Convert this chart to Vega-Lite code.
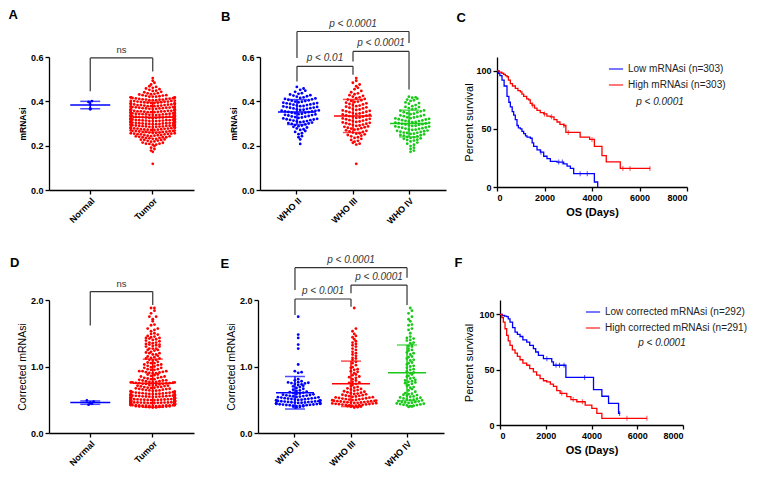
{
"$schema":"https://vega.github.io/schema/vega-lite/v6.json",
"padding":{"left":8,"top":9,"right":0,"bottom":0},
"config":{"font":"Liberation Sans","view":{"stroke":null},
"axis":{"grid":false,"domainColor":"#000","tickColor":"#000","domainWidth":1.3,"tickWidth":1.3,"tickSize":4,"labelFontWeight":"bold","labelFontSize":9,"labelColor":"#000","labelPadding":2,"titleFontWeight":"normal","titleFontSize":10.5,"titleColor":"#000"},
"title":{"anchor":"start","frame":"bounds","fontSize":13,"fontWeight":"bold","color":"#000"}},
"datasets":{
"m":[
{"g":"Normal","v":0.401},{"g":"Normal","v":0.397},{"g":"Normal","v":0.386},{"g":"Normal","v":0.368},{"g":"Normal","v":0.364},
{"g":"WHO II","v":0.208},{"g":"WHO II","v":0.228},{"g":"WHO II","v":0.238},{"g":"WHO II","v":0.243},{"g":"WHO II","v":0.252},{"g":"WHO II","v":0.256},{"g":"WHO II","v":0.262},{"g":"WHO II","v":0.266},{"g":"WHO II","v":0.271},{"g":"WHO II","v":0.274},{"g":"WHO II","v":0.278},{"g":"WHO II","v":0.282},{"g":"WHO II","v":0.285},{"g":"WHO II","v":0.288},{"g":"WHO II","v":0.291},{"g":"WHO II","v":0.293},{"g":"WHO II","v":0.296},{"g":"WHO II","v":0.298},
{"g":"WHO II","v":0.300},{"g":"WHO II","v":0.302},{"g":"WHO II","v":0.304},{"g":"WHO II","v":0.306},{"g":"WHO II","v":0.308},{"g":"WHO II","v":0.309},
{"g":"WHO II","v":0.311},{"g":"WHO II","v":0.313},{"g":"WHO II","v":0.315},{"g":"WHO II","v":0.316},{"g":"WHO II","v":0.318},{"g":"WHO II","v":0.319},
{"g":"WHO II","v":0.321},{"g":"WHO II","v":0.323},{"g":"WHO II","v":0.325},{"g":"WHO II","v":0.327},{"g":"WHO II","v":0.329},
{"g":"WHO II","v":0.331},{"g":"WHO II","v":0.332},{"g":"WHO II","v":0.334},{"g":"WHO II","v":0.336},{"g":"WHO II","v":0.338},{"g":"WHO II","v":0.339},
{"g":"WHO II","v":0.341},{"g":"WHO II","v":0.342},{"g":"WHO II","v":0.344},{"g":"WHO II","v":0.346},{"g":"WHO II","v":0.348},{"g":"WHO II","v":0.349},
{"g":"WHO II","v":0.351},{"g":"WHO II","v":0.352},{"g":"WHO II","v":0.354},{"g":"WHO II","v":0.355},{"g":"WHO II","v":0.357},{"g":"WHO II","v":0.358},{"g":"WHO II","v":0.359},
{"g":"WHO II","v":0.361},{"g":"WHO II","v":0.362},{"g":"WHO II","v":0.364},{"g":"WHO II","v":0.366},{"g":"WHO II","v":0.368},{"g":"WHO II","v":0.369},
{"g":"WHO II","v":0.371},{"g":"WHO II","v":0.372},{"g":"WHO II","v":0.374},{"g":"WHO II","v":0.375},{"g":"WHO II","v":0.377},{"g":"WHO II","v":0.378},{"g":"WHO II","v":0.379},
{"g":"WHO II","v":0.381},{"g":"WHO II","v":0.383},{"g":"WHO II","v":0.385},{"g":"WHO II","v":0.386},{"g":"WHO II","v":0.388},{"g":"WHO II","v":0.389},
{"g":"WHO II","v":0.391},{"g":"WHO II","v":0.392},{"g":"WHO II","v":0.394},{"g":"WHO II","v":0.396},{"g":"WHO II","v":0.398},{"g":"WHO II","v":0.399},
{"g":"WHO II","v":0.401},{"g":"WHO II","v":0.403},{"g":"WHO II","v":0.405},{"g":"WHO II","v":0.407},{"g":"WHO II","v":0.409},
{"g":"WHO II","v":0.411},{"g":"WHO II","v":0.413},{"g":"WHO II","v":0.415},{"g":"WHO II","v":0.418},
{"g":"WHO II","v":0.421},{"g":"WHO II","v":0.423},{"g":"WHO II","v":0.426},{"g":"WHO II","v":0.428},
{"g":"WHO II","v":0.431},{"g":"WHO II","v":0.434},{"g":"WHO II","v":0.437},
{"g":"WHO II","v":0.443},{"g":"WHO II","v":0.448},{"g":"WHO II","v":0.452},{"g":"WHO II","v":0.458},{"g":"WHO II","v":0.465},
{"g":"WHO III","v":0.118},
{"g":"WHO III","v":0.205},{"g":"WHO III","v":0.209},{"g":"WHO III","v":0.213},{"g":"WHO III","v":0.218},{"g":"WHO III","v":0.222},{"g":"WHO III","v":0.226},{"g":"WHO III","v":0.231},{"g":"WHO III","v":0.235},{"g":"WHO III","v":0.238},{"g":"WHO III","v":0.242},{"g":"WHO III","v":0.245},{"g":"WHO III","v":0.248},
{"g":"WHO III","v":0.251},{"g":"WHO III","v":0.254},{"g":"WHO III","v":0.256},{"g":"WHO III","v":0.259},{"g":"WHO III","v":0.262},{"g":"WHO III","v":0.264},{"g":"WHO III","v":0.267},{"g":"WHO III","v":0.269},{"g":"WHO III","v":0.272},{"g":"WHO III","v":0.274},{"g":"WHO III","v":0.277},{"g":"WHO III","v":0.279},
{"g":"WHO III","v":0.281},{"g":"WHO III","v":0.283},{"g":"WHO III","v":0.285},{"g":"WHO III","v":0.287},{"g":"WHO III","v":0.289},{"g":"WHO III","v":0.291},{"g":"WHO III","v":0.293},{"g":"WHO III","v":0.295},{"g":"WHO III","v":0.297},{"g":"WHO III","v":0.299},
{"g":"WHO III","v":0.301},{"g":"WHO III","v":0.303},{"g":"WHO III","v":0.305},{"g":"WHO III","v":0.307},{"g":"WHO III","v":0.309},{"g":"WHO III","v":0.311},{"g":"WHO III","v":0.313},{"g":"WHO III","v":0.315},{"g":"WHO III","v":0.317},{"g":"WHO III","v":0.319},
{"g":"WHO III","v":0.321},{"g":"WHO III","v":0.323},{"g":"WHO III","v":0.325},{"g":"WHO III","v":0.327},{"g":"WHO III","v":0.329},{"g":"WHO III","v":0.331},{"g":"WHO III","v":0.333},{"g":"WHO III","v":0.335},{"g":"WHO III","v":0.337},{"g":"WHO III","v":0.339},
{"g":"WHO III","v":0.341},{"g":"WHO III","v":0.343},{"g":"WHO III","v":0.345},{"g":"WHO III","v":0.347},{"g":"WHO III","v":0.349},{"g":"WHO III","v":0.351},{"g":"WHO III","v":0.353},{"g":"WHO III","v":0.355},{"g":"WHO III","v":0.357},{"g":"WHO III","v":0.359},
{"g":"WHO III","v":0.361},{"g":"WHO III","v":0.363},{"g":"WHO III","v":0.365},{"g":"WHO III","v":0.368},{"g":"WHO III","v":0.371},{"g":"WHO III","v":0.373},{"g":"WHO III","v":0.376},{"g":"WHO III","v":0.378},
{"g":"WHO III","v":0.381},{"g":"WHO III","v":0.383},{"g":"WHO III","v":0.386},{"g":"WHO III","v":0.388},{"g":"WHO III","v":0.391},{"g":"WHO III","v":0.394},{"g":"WHO III","v":0.397},{"g":"WHO III","v":0.399},
{"g":"WHO III","v":0.402},{"g":"WHO III","v":0.405},{"g":"WHO III","v":0.408},{"g":"WHO III","v":0.411},{"g":"WHO III","v":0.414},{"g":"WHO III","v":0.418},{"g":"WHO III","v":0.421},{"g":"WHO III","v":0.425},{"g":"WHO III","v":0.428},{"g":"WHO III","v":0.432},{"g":"WHO III","v":0.436},{"g":"WHO III","v":0.441},
{"g":"WHO III","v":0.447},{"g":"WHO III","v":0.455},{"g":"WHO III","v":0.461},{"g":"WHO III","v":0.468},{"g":"WHO III","v":0.476},{"g":"WHO III","v":0.484},{"g":"WHO III","v":0.493},{"g":"WHO III","v":0.505},
{"g":"WHO IV","v":0.172},{"g":"WHO IV","v":0.178},{"g":"WHO IV","v":0.185},{"g":"WHO IV","v":0.191},{"g":"WHO IV","v":0.198},{"g":"WHO IV","v":0.204},{"g":"WHO IV","v":0.209},{"g":"WHO IV","v":0.214},{"g":"WHO IV","v":0.219},
{"g":"WHO IV","v":0.223},{"g":"WHO IV","v":0.227},{"g":"WHO IV","v":0.231},{"g":"WHO IV","v":0.235},{"g":"WHO IV","v":0.238},{"g":"WHO IV","v":0.242},{"g":"WHO IV","v":0.245},{"g":"WHO IV","v":0.248},
{"g":"WHO IV","v":0.251},{"g":"WHO IV","v":0.254},{"g":"WHO IV","v":0.257},{"g":"WHO IV","v":0.259},{"g":"WHO IV","v":0.262},{"g":"WHO IV","v":0.265},{"g":"WHO IV","v":0.268},
{"g":"WHO IV","v":0.271},{"g":"WHO IV","v":0.273},{"g":"WHO IV","v":0.276},{"g":"WHO IV","v":0.279},{"g":"WHO IV","v":0.281},{"g":"WHO IV","v":0.284},{"g":"WHO IV","v":0.287},{"g":"WHO IV","v":0.289},
{"g":"WHO IV","v":0.292},{"g":"WHO IV","v":0.295},{"g":"WHO IV","v":0.298},{"g":"WHO IV","v":0.301},{"g":"WHO IV","v":0.303},{"g":"WHO IV","v":0.306},{"g":"WHO IV","v":0.309},
{"g":"WHO IV","v":0.312},{"g":"WHO IV","v":0.315},{"g":"WHO IV","v":0.318},{"g":"WHO IV","v":0.321},{"g":"WHO IV","v":0.324},{"g":"WHO IV","v":0.327},
{"g":"WHO IV","v":0.331},{"g":"WHO IV","v":0.334},{"g":"WHO IV","v":0.338},{"g":"WHO IV","v":0.342},{"g":"WHO IV","v":0.346},{"g":"WHO IV","v":0.351},
{"g":"WHO IV","v":0.355},{"g":"WHO IV","v":0.359},{"g":"WHO IV","v":0.364},{"g":"WHO IV","v":0.369},{"g":"WHO IV","v":0.374},{"g":"WHO IV","v":0.378},
{"g":"WHO IV","v":0.383},{"g":"WHO IV","v":0.389},{"g":"WHO IV","v":0.395},{"g":"WHO IV","v":0.402},{"g":"WHO IV","v":0.408},{"g":"WHO IV","v":0.412},{"g":"WHO IV","v":0.416},{"g":"WHO IV","v":0.418},{"g":"WHO IV","v":0.421},
{"g":"WHO IV","v":0.226},{"g":"WHO IV","v":0.233},{"g":"WHO IV","v":0.24},{"g":"WHO IV","v":0.247},{"g":"WHO IV","v":0.253},{"g":"WHO IV","v":0.258},{"g":"WHO IV","v":0.263},{"g":"WHO IV","v":0.267},{"g":"WHO IV","v":0.272},{"g":"WHO IV","v":0.277},{"g":"WHO IV","v":0.282},{"g":"WHO IV","v":0.286},{"g":"WHO IV","v":0.29},{"g":"WHO IV","v":0.294},{"g":"WHO IV","v":0.297},{"g":"WHO IV","v":0.3},
{"g":"WHO IV","v":0.304},{"g":"WHO IV","v":0.307},{"g":"WHO IV","v":0.311},{"g":"WHO IV","v":0.314},{"g":"WHO IV","v":0.319},{"g":"WHO IV","v":0.323},{"g":"WHO IV","v":0.328},{"g":"WHO IV","v":0.333},{"g":"WHO IV","v":0.337},{"g":"WHO IV","v":0.344},{"g":"WHO IV","v":0.35},{"g":"WHO IV","v":0.357},{"g":"WHO IV","v":0.366},{"g":"WHO IV","v":0.375},{"g":"WHO IV","v":0.392},{"g":"WHO IV","v":0.405}
],
"c":[
{"g":"Normal","v":0.49},{"g":"Normal","v":0.473},{"g":"Normal","v":0.455},{"g":"Normal","v":0.44},{"g":"Normal","v":0.426},
{"g":"WHO II","v":0.385},{"g":"WHO II","v":0.392},{"g":"WHO II","v":0.398},{"g":"WHO II","v":0.402},{"g":"WHO II","v":0.405},{"g":"WHO II","v":0.408},{"g":"WHO II","v":0.411},{"g":"WHO II","v":0.414},{"g":"WHO II","v":0.417},{"g":"WHO II","v":0.419},
{"g":"WHO II","v":0.421},{"g":"WHO II","v":0.424},{"g":"WHO II","v":0.427},{"g":"WHO II","v":0.429},{"g":"WHO II","v":0.432},{"g":"WHO II","v":0.435},{"g":"WHO II","v":0.437},{"g":"WHO II","v":0.439},
{"g":"WHO II","v":0.442},{"g":"WHO II","v":0.445},{"g":"WHO II","v":0.447},{"g":"WHO II","v":0.449},{"g":"WHO II","v":0.452},{"g":"WHO II","v":0.455},{"g":"WHO II","v":0.457},{"g":"WHO II","v":0.459},
{"g":"WHO II","v":0.462},{"g":"WHO II","v":0.465},{"g":"WHO II","v":0.467},{"g":"WHO II","v":0.469},{"g":"WHO II","v":0.472},{"g":"WHO II","v":0.475},{"g":"WHO II","v":0.477},{"g":"WHO II","v":0.479},
{"g":"WHO II","v":0.482},{"g":"WHO II","v":0.485},{"g":"WHO II","v":0.488},{"g":"WHO II","v":0.491},{"g":"WHO II","v":0.494},{"g":"WHO II","v":0.497},
{"g":"WHO II","v":0.501},{"g":"WHO II","v":0.504},{"g":"WHO II","v":0.507},{"g":"WHO II","v":0.511},{"g":"WHO II","v":0.514},{"g":"WHO II","v":0.517},
{"g":"WHO II","v":0.521},{"g":"WHO II","v":0.524},{"g":"WHO II","v":0.528},{"g":"WHO II","v":0.532},{"g":"WHO II","v":0.536},{"g":"WHO II","v":0.539},
{"g":"WHO II","v":0.543},{"g":"WHO II","v":0.547},{"g":"WHO II","v":0.551},{"g":"WHO II","v":0.555},{"g":"WHO II","v":0.559},
{"g":"WHO II","v":0.563},{"g":"WHO II","v":0.567},{"g":"WHO II","v":0.572},{"g":"WHO II","v":0.577},{"g":"WHO II","v":0.582},{"g":"WHO II","v":0.588},
{"g":"WHO II","v":0.594},{"g":"WHO II","v":0.601},{"g":"WHO II","v":0.608},{"g":"WHO II","v":0.615},{"g":"WHO II","v":0.622},{"g":"WHO II","v":0.631},
{"g":"WHO II","v":0.64},{"g":"WHO II","v":0.652},{"g":"WHO II","v":0.665},{"g":"WHO II","v":0.678},{"g":"WHO II","v":0.69},{"g":"WHO II","v":0.702},
{"g":"WHO II","v":0.712},{"g":"WHO II","v":0.722},{"g":"WHO II","v":0.731},{"g":"WHO II","v":0.738},{"g":"WHO II","v":0.745},{"g":"WHO II","v":0.751},{"g":"WHO II","v":0.756},{"g":"WHO II","v":0.761},{"g":"WHO II","v":0.765},
{"g":"WHO II","v":0.778},{"g":"WHO II","v":0.792},{"g":"WHO II","v":0.81},{"g":"WHO II","v":0.905},{"g":"WHO II","v":0.915},{"g":"WHO II","v":0.93},{"g":"WHO II","v":1.03},{"g":"WHO II","v":1.27},{"g":"WHO II","v":1.33},{"g":"WHO II","v":1.43},{"g":"WHO II","v":1.48},{"g":"WHO II","v":1.75},
{"g":"WHO III","v":0.382},{"g":"WHO III","v":0.389},{"g":"WHO III","v":0.395},{"g":"WHO III","v":0.399},{"g":"WHO III","v":0.403},{"g":"WHO III","v":0.407},{"g":"WHO III","v":0.411},{"g":"WHO III","v":0.414},{"g":"WHO III","v":0.417},
{"g":"WHO III","v":0.421},{"g":"WHO III","v":0.424},{"g":"WHO III","v":0.427},{"g":"WHO III","v":0.43},{"g":"WHO III","v":0.433},{"g":"WHO III","v":0.436},{"g":"WHO III","v":0.439},
{"g":"WHO III","v":0.442},{"g":"WHO III","v":0.445},{"g":"WHO III","v":0.448},{"g":"WHO III","v":0.451},{"g":"WHO III","v":0.454},{"g":"WHO III","v":0.457},{"g":"WHO III","v":0.459},
{"g":"WHO III","v":0.462},{"g":"WHO III","v":0.465},{"g":"WHO III","v":0.468},{"g":"WHO III","v":0.471},{"g":"WHO III","v":0.474},{"g":"WHO III","v":0.477},{"g":"WHO III","v":0.479},
{"g":"WHO III","v":0.482},{"g":"WHO III","v":0.485},{"g":"WHO III","v":0.488},{"g":"WHO III","v":0.492},{"g":"WHO III","v":0.495},{"g":"WHO III","v":0.498},
{"g":"WHO III","v":0.502},{"g":"WHO III","v":0.506},{"g":"WHO III","v":0.51},{"g":"WHO III","v":0.514},{"g":"WHO III","v":0.518},
{"g":"WHO III","v":0.522},{"g":"WHO III","v":0.526},{"g":"WHO III","v":0.531},{"g":"WHO III","v":0.535},{"g":"WHO III","v":0.539},
{"g":"WHO III","v":0.544},{"g":"WHO III","v":0.549},{"g":"WHO III","v":0.554},{"g":"WHO III","v":0.559},
{"g":"WHO III","v":0.564},{"g":"WHO III","v":0.569},{"g":"WHO III","v":0.575},{"g":"WHO III","v":0.581},{"g":"WHO III","v":0.587},
{"g":"WHO III","v":0.593},{"g":"WHO III","v":0.599},{"g":"WHO III","v":0.606},{"g":"WHO III","v":0.613},{"g":"WHO III","v":0.62},
{"g":"WHO III","v":0.628},{"g":"WHO III","v":0.636},{"g":"WHO III","v":0.645},{"g":"WHO III","v":0.654},{"g":"WHO III","v":0.663},{"g":"WHO III","v":0.672},{"g":"WHO III","v":0.682},{"g":"WHO III","v":0.693},{"g":"WHO III","v":0.705},
{"g":"WHO III","v":0.72},{"g":"WHO III","v":0.74},{"g":"WHO III","v":0.755},{"g":"WHO III","v":0.77},{"g":"WHO III","v":0.79},{"g":"WHO III","v":0.81},{"g":"WHO III","v":0.83},{"g":"WHO III","v":0.85},{"g":"WHO III","v":0.87},{"g":"WHO III","v":0.9},{"g":"WHO III","v":0.93},{"g":"WHO III","v":0.96},{"g":"WHO III","v":0.98},{"g":"WHO III","v":0.99},
{"g":"WHO III","v":1.05},{"g":"WHO III","v":1.1},{"g":"WHO III","v":1.13},{"g":"WHO III","v":1.18},{"g":"WHO III","v":1.22},{"g":"WHO III","v":1.27},{"g":"WHO III","v":1.32},{"g":"WHO III","v":1.36},{"g":"WHO III","v":1.41},{"g":"WHO III","v":1.44},{"g":"WHO III","v":1.49},{"g":"WHO III","v":1.53},{"g":"WHO III","v":1.57},{"g":"WHO III","v":1.88},
{"g":"WHO III","v":1.02},{"g":"WHO III","v":1.07},{"g":"WHO III","v":1.12},{"g":"WHO III","v":1.16},{"g":"WHO III","v":1.2},{"g":"WHO III","v":1.25},{"g":"WHO III","v":1.3},{"g":"WHO III","v":1.34},{"g":"WHO III","v":1.38},{"g":"WHO III","v":1.46},{"g":"WHO III","v":0.92},{"g":"WHO III","v":0.95},{"g":"WHO III","v":0.88},{"g":"WHO III","v":0.84},{"g":"WHO III","v":0.76},
{"g":"WHO IV","v":0.392},{"g":"WHO IV","v":0.405},{"g":"WHO IV","v":0.415},{"g":"WHO IV","v":0.425},{"g":"WHO IV","v":0.435},{"g":"WHO IV","v":0.445},{"g":"WHO IV","v":0.455},{"g":"WHO IV","v":0.465},{"g":"WHO IV","v":0.475},{"g":"WHO IV","v":0.49},{"g":"WHO IV","v":0.5},{"g":"WHO IV","v":0.515},{"g":"WHO IV","v":0.53},{"g":"WHO IV","v":0.545},{"g":"WHO IV","v":0.56},{"g":"WHO IV","v":0.575},{"g":"WHO IV","v":0.59},
{"g":"WHO IV","v":0.62},{"g":"WHO IV","v":0.66},{"g":"WHO IV","v":0.69},{"g":"WHO IV","v":0.72},{"g":"WHO IV","v":0.74},{"g":"WHO IV","v":0.76},{"g":"WHO IV","v":0.78},{"g":"WHO IV","v":0.8},{"g":"WHO IV","v":0.83},{"g":"WHO IV","v":0.86},{"g":"WHO IV","v":0.88},
{"g":"WHO IV","v":0.91},{"g":"WHO IV","v":0.93},{"g":"WHO IV","v":0.95},{"g":"WHO IV","v":0.98},{"g":"WHO IV","v":1.0},{"g":"WHO IV","v":1.03},{"g":"WHO IV","v":1.06},{"g":"WHO IV","v":1.09},{"g":"WHO IV","v":1.12},
{"g":"WHO IV","v":1.15},{"g":"WHO IV","v":1.18},{"g":"WHO IV","v":1.21},{"g":"WHO IV","v":1.24},{"g":"WHO IV","v":1.27},{"g":"WHO IV","v":1.3},{"g":"WHO IV","v":1.33},{"g":"WHO IV","v":1.36},{"g":"WHO IV","v":1.39},{"g":"WHO IV","v":1.42},{"g":"WHO IV","v":1.45},
{"g":"WHO IV","v":1.5},{"g":"WHO IV","v":1.57},{"g":"WHO IV","v":1.63},{"g":"WHO IV","v":1.68},{"g":"WHO IV","v":1.75},{"g":"WHO IV","v":1.8},{"g":"WHO IV","v":1.84},{"g":"WHO IV","v":1.88},
{"g":"WHO IV","v":0.398},{"g":"WHO IV","v":0.41},{"g":"WHO IV","v":0.42},{"g":"WHO IV","v":0.43},{"g":"WHO IV","v":0.44},{"g":"WHO IV","v":0.45},{"g":"WHO IV","v":0.46},{"g":"WHO IV","v":0.47},{"g":"WHO IV","v":0.48},{"g":"WHO IV","v":0.495},{"g":"WHO IV","v":0.505},{"g":"WHO IV","v":0.52},{"g":"WHO IV","v":0.535},{"g":"WHO IV","v":0.55},{"g":"WHO IV","v":0.57},{"g":"WHO IV","v":0.585},{"g":"WHO IV","v":0.6},{"g":"WHO IV","v":0.64},{"g":"WHO IV","v":0.68},{"g":"WHO IV","v":0.71},
{"g":"WHO IV","v":0.75},{"g":"WHO IV","v":0.77},{"g":"WHO IV","v":0.79},{"g":"WHO IV","v":0.82},{"g":"WHO IV","v":0.85},{"g":"WHO IV","v":0.9},{"g":"WHO IV","v":0.96},{"g":"WHO IV","v":1.01},{"g":"WHO IV","v":1.05},{"g":"WHO IV","v":1.1},{"g":"WHO IV","v":1.14},{"g":"WHO IV","v":1.2},{"g":"WHO IV","v":1.25},{"g":"WHO IV","v":1.31},{"g":"WHO IV","v":1.35},{"g":"WHO IV","v":1.4},{"g":"WHO IV","v":1.43},{"g":"WHO IV","v":1.55},{"g":"WHO IV","v":1.62},{"g":"WHO IV","v":1.71}
],
"br":[
{"p":"A","a":"Normal","b":"Tumor","y":0.596,"ya":0.445,"yb":0.535,"t":"ns","m":"Normal","k":"edge"},
{"p":"B","a":"WHO II","b":"WHO III","y":0.558,"ya":0.49,"yb":0.52,"t":"p < 0.01","m":"WHO II","k":"edge"},
{"p":"B","a":"WHO III","b":"WHO IV","y":0.625,"ya":0.58,"yb":0.453,"t":"p < 0.0001","m":"WHO III","k":"edge"},
{"p":"B","a":"WHO II","b":"WHO IV","y":0.715,"ya":0.596,"yb":0.663,"t":"p < 0.0001","m":"WHO III","k":"mid"},
{"p":"D","a":"Normal","b":"Tumor","y":2.126,"ya":1.616,"yb":1.925,"t":"ns","m":"Normal","k":"edge"},
{"p":"E","a":"WHO II","b":"WHO III","y":2.015,"ya":1.775,"yb":1.9,"t":"p < 0.001","m":"WHO II","k":"edge"},
{"p":"E","a":"WHO III","b":"WHO IV","y":2.225,"ya":2.1,"yb":1.925,"t":"p < 0.0001","m":"WHO III","k":"edge"},
{"p":"E","a":"WHO II","b":"WHO IV","y":2.486,"ya":2.15,"yb":2.336,"t":"p < 0.0001","m":"WHO III","k":"mid"}
],
"km":[
{"p":"C","s":"Low","t":0,"v":100},{"p":"C","s":"Low","t":60,"v":98},{"p":"C","s":"Low","t":120,"v":96},{"p":"C","s":"Low","t":211,"v":92},{"p":"C","s":"Low","t":300,"v":87},{"p":"C","s":"Low","t":421,"v":78},{"p":"C","s":"Low","t":500,"v":73},{"p":"C","s":"Low","t":562,"v":69},{"p":"C","s":"Low","t":640,"v":65},{"p":"C","s":"Low","t":702,"v":62},{"p":"C","s":"Low","t":770,"v":58},{"p":"C","s":"Low","t":842,"v":53},{"p":"C","s":"Low","t":900,"v":51},{"p":"C","s":"Low","t":983,"v":50},{"p":"C","s":"Low","t":1050,"v":48},{"p":"C","s":"Low","t":1123,"v":46},{"p":"C","s":"Low","t":1200,"v":44},{"p":"C","s":"Low","t":1264,"v":43},{"p":"C","s":"Low","t":1404,"v":42},{"p":"C","s":"Low","t":1480,"v":38},{"p":"C","s":"Low","t":1544,"v":35},{"p":"C","s":"Low","t":1685,"v":32},{"p":"C","s":"Low","t":1825,"v":30},{"p":"C","s":"Low","t":1966,"v":26.5},{"p":"C","s":"Low","t":2106,"v":24.5},{"p":"C","s":"Low","t":2246,"v":22},{"p":"C","s":"Low","t":2527,"v":21.5},{"p":"C","s":"Low","t":2808,"v":20},{"p":"C","s":"Low","t":2950,"v":18},{"p":"C","s":"Low","t":3089,"v":16},{"p":"C","s":"Low","t":3229,"v":11.5},{"p":"C","s":"Low","t":4100,"v":4.3},{"p":"C","s":"Low","t":4240,"v":0},
{"p":"C","s":"High","t":0,"v":100},{"p":"C","s":"High","t":100,"v":99},{"p":"C","s":"High","t":200,"v":98},{"p":"C","s":"High","t":281,"v":97},{"p":"C","s":"High","t":350,"v":96},{"p":"C","s":"High","t":421,"v":95},{"p":"C","s":"High","t":480,"v":92},{"p":"C","s":"High","t":562,"v":89},{"p":"C","s":"High","t":650,"v":87},{"p":"C","s":"High","t":772,"v":85},{"p":"C","s":"High","t":880,"v":83},{"p":"C","s":"High","t":983,"v":82},{"p":"C","s":"High","t":1050,"v":80},{"p":"C","s":"High","t":1123,"v":78},{"p":"C","s":"High","t":1250,"v":76},{"p":"C","s":"High","t":1334,"v":75},{"p":"C","s":"High","t":1400,"v":72},{"p":"C","s":"High","t":1474,"v":70.6},{"p":"C","s":"High","t":1580,"v":68},{"p":"C","s":"High","t":1685,"v":66},{"p":"C","s":"High","t":1820,"v":64},{"p":"C","s":"High","t":1966,"v":63},{"p":"C","s":"High","t":2100,"v":61},{"p":"C","s":"High","t":2246,"v":60.5},{"p":"C","s":"High","t":2400,"v":58},{"p":"C","s":"High","t":2527,"v":56},{"p":"C","s":"High","t":2650,"v":54},{"p":"C","s":"High","t":2808,"v":53},{"p":"C","s":"High","t":2900,"v":47},{"p":"C","s":"High","t":3500,"v":43},{"p":"C","s":"High","t":3900,"v":41},{"p":"C","s":"High","t":4100,"v":35},{"p":"C","s":"High","t":4420,"v":27},{"p":"C","s":"High","t":4600,"v":21.6},{"p":"C","s":"High","t":5190,"v":16},{"p":"C","s":"High","t":6450,"v":16},
{"p":"F","s":"Low","t":0,"v":100},{"p":"F","s":"Low","t":100,"v":99},{"p":"F","s":"Low","t":200,"v":98.5},{"p":"F","s":"Low","t":292,"v":98},{"p":"F","s":"Low","t":360,"v":96},{"p":"F","s":"Low","t":438,"v":93},{"p":"F","s":"Low","t":550,"v":88},{"p":"F","s":"Low","t":657,"v":84},{"p":"F","s":"Low","t":760,"v":82},{"p":"F","s":"Low","t":876,"v":80},{"p":"F","s":"Low","t":1000,"v":77},{"p":"F","s":"Low","t":1168,"v":75},{"p":"F","s":"Low","t":1300,"v":72},{"p":"F","s":"Low","t":1460,"v":69},{"p":"F","s":"Low","t":1560,"v":66},{"p":"F","s":"Low","t":1679,"v":63},{"p":"F","s":"Low","t":1898,"v":60},{"p":"F","s":"Low","t":2263,"v":57},{"p":"F","s":"Low","t":2336,"v":54},{"p":"F","s":"Low","t":2880,"v":43},{"p":"F","s":"Low","t":4088,"v":32},{"p":"F","s":"Low","t":4453,"v":26},{"p":"F","s":"Low","t":4745,"v":19.6},{"p":"F","s":"Low","t":5183,"v":10.5},{"p":"F","s":"Low","t":5256,"v":10.5},
{"p":"F","s":"High","t":0,"v":100},{"p":"F","s":"High","t":80,"v":97},{"p":"F","s":"High","t":146,"v":93},{"p":"F","s":"High","t":220,"v":87},{"p":"F","s":"High","t":292,"v":81},{"p":"F","s":"High","t":360,"v":76},{"p":"F","s":"High","t":438,"v":72},{"p":"F","s":"High","t":540,"v":68},{"p":"F","s":"High","t":657,"v":65},{"p":"F","s":"High","t":760,"v":62},{"p":"F","s":"High","t":876,"v":59},{"p":"F","s":"High","t":1000,"v":56},{"p":"F","s":"High","t":1168,"v":54},{"p":"F","s":"High","t":1300,"v":51},{"p":"F","s":"High","t":1460,"v":48},{"p":"F","s":"High","t":1600,"v":45},{"p":"F","s":"High","t":1752,"v":42},{"p":"F","s":"High","t":1900,"v":40},{"p":"F","s":"High","t":2044,"v":39},{"p":"F","s":"High","t":2200,"v":37},{"p":"F","s":"High","t":2336,"v":35},{"p":"F","s":"High","t":2480,"v":31},{"p":"F","s":"High","t":2628,"v":28.6},{"p":"F","s":"High","t":2920,"v":25.6},{"p":"F","s":"High","t":3100,"v":23},{"p":"F","s":"High","t":3358,"v":21},{"p":"F","s":"High","t":3723,"v":18},{"p":"F","s":"High","t":4015,"v":15},{"p":"F","s":"High","t":4234,"v":10.5},{"p":"F","s":"High","t":4453,"v":6},{"p":"F","s":"High","t":6424,"v":6}
],
"cz":[
{"p":"C","s":"Low","t":1850,"v":30},{"p":"C","s":"Low","t":2600,"v":21.5},{"p":"C","s":"Low","t":2750,"v":21.5},{"p":"C","s":"Low","t":3500,"v":11.5},{"p":"C","s":"Low","t":3800,"v":11.5},
{"p":"C","s":"High","t":1500,"v":70.6},{"p":"C","s":"High","t":2000,"v":63},{"p":"C","s":"High","t":2300,"v":60.5},{"p":"C","s":"High","t":2820,"v":53},{"p":"C","s":"High","t":3000,"v":47},{"p":"C","s":"High","t":4000,"v":41},{"p":"C","s":"High","t":5300,"v":16},{"p":"C","s":"High","t":5600,"v":16},{"p":"C","s":"High","t":6440,"v":16},
{"p":"F","s":"Low","t":2050,"v":60},{"p":"F","s":"Low","t":2450,"v":54},{"p":"F","s":"Low","t":2600,"v":54},{"p":"F","s":"Low","t":2800,"v":54},{"p":"F","s":"Low","t":3700,"v":43},{"p":"F","s":"Low","t":5230,"v":10.5},
{"p":"F","s":"High","t":2700,"v":28.6},{"p":"F","s":"High","t":3200,"v":23},{"p":"F","s":"High","t":3600,"v":21},{"p":"F","s":"High","t":5550,"v":6},{"p":"F","s":"High","t":6424,"v":6}
]
},
"spacing":28,
"resolve":{"scale":{"color":"independent"},"legend":{"color":"independent"}},
"vconcat":[
{"spacing":10,"resolve":{"scale":{"color":"independent"},"legend":{"color":"independent"}},
"hconcat":[
{"title":{"text":"A","offset":22.5,"dx":-10},"width":161,"height":133,
"layer":[
{"data":{"name":"m"},"transform":[{"calculate":"datum.g=='Normal'?'Normal':'Tumor'","as":"grp"},{"calculate":"floor(datum.v/0.0135)","as":"bin"},{"joinaggregate":[{"op":"count","as":"n"}],"groupby":["grp","bin"]},{"window":[{"op":"row_number","as":"r"}],"groupby":["grp","bin"],"sort":[{"field":"v"}]},{"calculate":"max(-6.5,min(6.5,(datum.r%2==0?datum.r/2:-(datum.r-1)/2)-(datum.n%2==0?0.5:0)))","as":"slot"}],
"mark":{"type":"circle","size":8,"opacity":1},
"encoding":{"x":{"field":"grp","type":"nominal","title":null,"scale":{"domain":["Normal","Tumor"],"range":[0,145],"paddingInner":0,"paddingOuter":0.16},"axis":{"labelAngle":-45}},
"xOffset":{"field":"slot","type":"ordinal","scale":{"domain":[-9,-8.5,-8,-7.5,-7,-6.5,-6,-5.5,-5,-4.5,-4,-3.5,-3,-2.5,-2,-1.5,-1,-0.5,0,0.5,1,1.5,2,2.5,3,3.5,4,4.5,5,5.5,6,6.5,7,7.5,8,8.5,9]}},
"y":{"field":"v","type":"quantitative","title":"mRNAsi","scale":{"domain":[0,0.6],"nice":false},"axis":{"values":[0,0.2,0.4,0.6],"format":".1f","titleFontWeight":"bold","titleFontSize":8.5,"titlePadding":3}},
"color":{"field":"grp","type":"nominal","scale":{"domain":["Normal","Tumor"],"range":["#0000ff","#ff0000"]},"legend":null}}},
{"data":{"name":"m"},"transform":[{"calculate":"datum.g=='Normal'?'Normal':'Tumor'","as":"grp"}],
"mark":{"type":"errorbar","extent":"stdev","thickness":1.5,"ticks":{"size":20}},
"encoding":{"x":{"field":"grp","type":"nominal","title":null},"y":{"field":"v","type":"quantitative","title":"mRNAsi"},"color":{"field":"grp","type":"nominal","legend":null}}},
{"data":{"name":"m"},"transform":[{"calculate":"datum.g=='Normal'?'Normal':'Tumor'","as":"grp"}],
"mark":{"type":"tick","size":40,"thickness":1.5,"orient":"horizontal"},
"encoding":{"x":{"field":"grp","type":"nominal","title":null},"y":{"aggregate":"mean","field":"v","type":"quantitative","title":"mRNAsi"},"color":{"field":"grp","type":"nominal","legend":null}}},
{"data":{"name":"br"},"transform":[{"filter":"datum.p=='A'"}],"mark":{"type":"rule","color":"#333","strokeWidth":1.2},
"encoding":{"x":{"field":"a","type":"nominal","title":null},"x2":{"field":"b"},"y":{"field":"y","type":"quantitative","title":"mRNAsi"}}},
{"data":{"name":"br"},"transform":[{"filter":"datum.p=='A'"}],"mark":{"type":"rule","color":"#333","strokeWidth":1.2},
"encoding":{"x":{"field":"a","type":"nominal","title":null},"y":{"field":"ya","type":"quantitative","title":"mRNAsi"},"y2":{"field":"y"}}},
{"data":{"name":"br"},"transform":[{"filter":"datum.p=='A'"}],"mark":{"type":"rule","color":"#333","strokeWidth":1.2},
"encoding":{"x":{"field":"b","type":"nominal","title":null},"y":{"field":"yb","type":"quantitative","title":"mRNAsi"},"y2":{"field":"y"}}},
{"data":{"name":"br"},"transform":[{"filter":"datum.p=='A'"}],"mark":{"type":"text","baseline":"bottom","dy":-3,"fontSize":9.5,"color":"#333"},
"encoding":{"x":{"field":"m","type":"nominal","title":null,"bandPosition":1},"y":{"field":"y","type":"quantitative","title":"mRNAsi"},"text":{"field":"t"}}}
]},
{"title":{"text":"B","offset":-5.5,"dx":-8.5},"width":186,"height":133,
"layer":[
{"data":{"name":"m"},"transform":[{"filter":"datum.g!='Normal'"},{"calculate":"floor(datum.v/0.018)","as":"bin"},{"joinaggregate":[{"op":"count","as":"n"}],"groupby":["g","bin"]},{"window":[{"op":"row_number","as":"r"}],"groupby":["g","bin"],"sort":[{"field":"v"}]},{"calculate":"max(-7,min(7,(datum.r%2==0?datum.r/2:-(datum.r-1)/2)-(datum.n%2==0?0.5:0)))","as":"slot"}],
"mark":{"type":"circle","size":8,"opacity":1},
"encoding":{"x":{"field":"g","type":"nominal","title":null,"scale":{"domain":["WHO II","WHO III","WHO IV"],"paddingInner":0,"paddingOuter":0.16},"axis":{"labelAngle":-45}},
"xOffset":{"field":"slot","type":"ordinal","scale":{"domain":[-8,-7.5,-7,-6.5,-6,-5.5,-5,-4.5,-4,-3.5,-3,-2.5,-2,-1.5,-1,-0.5,0,0.5,1,1.5,2,2.5,3,3.5,4,4.5,5,5.5,6,6.5,7,7.5,8]}},
"y":{"field":"v","type":"quantitative","title":"mRNAsi","scale":{"domain":[0,0.6],"nice":false},"axis":{"values":[0,0.2,0.4,0.6],"format":".1f","titleFontWeight":"bold","titleFontSize":8.5,"titlePadding":3}},
"color":{"field":"g","type":"nominal","scale":{"domain":["WHO II","WHO III","WHO IV"],"range":["#0000ff","#ff0000","#19c819"]},"legend":null}}},
{"data":{"name":"m"},"transform":[{"filter":"datum.g!='Normal'"}],
"mark":{"type":"errorbar","extent":"stdev","thickness":1.5,"ticks":{"size":20}},
"encoding":{"x":{"field":"g","type":"nominal","title":null},"y":{"field":"v","type":"quantitative","title":"mRNAsi"},"color":{"field":"g","type":"nominal","legend":null}}},
{"data":{"name":"m"},"transform":[{"filter":"datum.g!='Normal'"}],
"mark":{"type":"tick","size":38,"thickness":1.5,"orient":"horizontal"},
"encoding":{"x":{"field":"g","type":"nominal","title":null},"y":{"aggregate":"mean","field":"v","type":"quantitative","title":"mRNAsi"},"color":{"field":"g","type":"nominal","legend":null}}},
{"data":{"name":"br"},"transform":[{"filter":"datum.p=='B'"}],"mark":{"type":"rule","color":"#333","strokeWidth":1.2},
"encoding":{"x":{"field":"a","type":"nominal","title":null},"x2":{"field":"b"},"y":{"field":"y","type":"quantitative","title":"mRNAsi"}}},
{"data":{"name":"br"},"transform":[{"filter":"datum.p=='B'"}],"mark":{"type":"rule","color":"#333","strokeWidth":1.2},
"encoding":{"x":{"field":"a","type":"nominal","title":null},"y":{"field":"ya","type":"quantitative","title":"mRNAsi"},"y2":{"field":"y"}}},
{"data":{"name":"br"},"transform":[{"filter":"datum.p=='B'"}],"mark":{"type":"rule","color":"#333","strokeWidth":1.2},
"encoding":{"x":{"field":"b","type":"nominal","title":null},"y":{"field":"yb","type":"quantitative","title":"mRNAsi"},"y2":{"field":"y"}}},
{"data":{"name":"br"},"transform":[{"filter":"datum.p=='B' && datum.k=='edge'"}],"mark":{"type":"text","baseline":"bottom","dy":-3,"fontSize":10,"fontStyle":"italic","color":"#333"},
"encoding":{"x":{"field":"m","type":"nominal","title":null,"bandPosition":1},"y":{"field":"y","type":"quantitative","title":"mRNAsi"},"text":{"field":"t"}}},
{"data":{"name":"br"},"transform":[{"filter":"datum.p=='B' && datum.k=='mid'"}],"mark":{"type":"text","baseline":"bottom","dy":-3,"fontSize":10,"fontStyle":"italic","color":"#333"},
"encoding":{"x":{"field":"m","type":"nominal","title":null,"bandPosition":0.5},"y":{"field":"y","type":"quantitative","title":"mRNAsi"},"text":{"field":"t"}}}
]},
{"title":{"text":"C","offset":32,"dx":-7},"width":190,"height":130,
"layer":[
{"data":{"name":"km"},"transform":[{"filter":"datum.p=='C'"}],"mark":{"type":"line","interpolate":"step-after","strokeWidth":1.3},
"encoding":{"x":{"field":"t","type":"quantitative","title":"OS (Days)","scale":{"domain":[0,8000],"nice":false},"axis":{"values":[0,2000,4000,6000,8000],"format":"d","titleFontWeight":"bold","titleFontSize":11}},
"y":{"field":"v","type":"quantitative","title":"Percent survival","scale":{"domain":[0,112],"nice":false},"axis":{"values":[0,50,100],"titleFontSize":11,"titlePadding":1.5}},
"color":{"field":"s","type":"nominal","scale":{"domain":["Low","High"],"range":["#0000ff","#ff0000"]},
"legend":{"orient":"none","legendX":111,"legendY":4,"title":null,"symbolType":"stroke","symbolSize":200,"symbolStrokeWidth":1.5,"labelFontSize":10,"labelColor":"#222","rowPadding":3,"labelExpr":"datum.label=='Low'?'Low mRNAsi (n=303)':'High mRNAsi (n=303)'"}}}},
{"data":{"name":"cz"},"transform":[{"filter":"datum.p=='C'"}],"mark":{"type":"tick","orient":"vertical","size":5,"thickness":1},
"encoding":{"x":{"field":"t","type":"quantitative","title":"OS (Days)"},"y":{"field":"v","type":"quantitative","title":"Percent survival"},"color":{"field":"s","type":"nominal"}}},
{"data":{"values":[{}]},"mark":{"type":"text","fontStyle":"italic","fontSize":10,"color":"#222"},
"encoding":{"x":{"datum":6863},"y":{"datum":73},"text":{"value":"p < 0.0001"}}}
]}
]},
{"spacing":10,"resolve":{"scale":{"color":"independent"},"legend":{"color":"independent"}},
"hconcat":[
{"title":{"text":"D","offset":8.7,"dx":-8},"width":161,"height":133,
"layer":[
{"data":{"name":"c"},"transform":[{"calculate":"datum.g=='Normal'?'Normal':'Tumor'","as":"grp"},{"calculate":"floor(datum.v/0.045)","as":"bin"},{"joinaggregate":[{"op":"count","as":"n"}],"groupby":["grp","bin"]},{"window":[{"op":"row_number","as":"r"}],"groupby":["grp","bin"],"sort":[{"field":"v"}]},{"calculate":"max(-6.5,min(6.5,(datum.r%2==0?datum.r/2:-(datum.r-1)/2)-(datum.n%2==0?0.5:0)))","as":"slot"}],
"mark":{"type":"circle","size":8,"opacity":1},
"encoding":{"x":{"field":"grp","type":"nominal","title":null,"scale":{"domain":["Normal","Tumor"],"range":[0,145],"paddingInner":0,"paddingOuter":0.16},"axis":{"labelAngle":-45}},
"xOffset":{"field":"slot","type":"ordinal","scale":{"domain":[-9,-8.5,-8,-7.5,-7,-6.5,-6,-5.5,-5,-4.5,-4,-3.5,-3,-2.5,-2,-1.5,-1,-0.5,0,0.5,1,1.5,2,2.5,3,3.5,4,4.5,5,5.5,6,6.5,7,7.5,8,8.5,9]}},
"y":{"field":"v","type":"quantitative","title":"Corrected mRNAsi","scale":{"domain":[0,2],"nice":false},"axis":{"values":[0,0.5,1,1.5,2],"format":".1f","titlePadding":2.5}},
"color":{"field":"grp","type":"nominal","scale":{"domain":["Normal","Tumor"],"range":["#0000ff","#ff0000"]},"legend":null}}},
{"data":{"name":"c"},"transform":[{"calculate":"datum.g=='Normal'?'Normal':'Tumor'","as":"grp"}],
"mark":{"type":"errorbar","extent":"stdev","thickness":1.5,"ticks":{"size":20}},
"encoding":{"x":{"field":"grp","type":"nominal","title":null},"y":{"field":"v","type":"quantitative","title":"Corrected mRNAsi"},"color":{"field":"grp","type":"nominal","legend":null}}},
{"data":{"name":"c"},"transform":[{"calculate":"datum.g=='Normal'?'Normal':'Tumor'","as":"grp"}],
"mark":{"type":"tick","size":40,"thickness":1.5,"orient":"horizontal"},
"encoding":{"x":{"field":"grp","type":"nominal","title":null},"y":{"aggregate":"mean","field":"v","type":"quantitative","title":"Corrected mRNAsi"},"color":{"field":"grp","type":"nominal","legend":null}}},
{"data":{"name":"br"},"transform":[{"filter":"datum.p=='D'"}],"mark":{"type":"rule","color":"#333","strokeWidth":1.2},
"encoding":{"x":{"field":"a","type":"nominal","title":null},"x2":{"field":"b"},"y":{"field":"y","type":"quantitative","title":"Corrected mRNAsi"}}},
{"data":{"name":"br"},"transform":[{"filter":"datum.p=='D'"}],"mark":{"type":"rule","color":"#333","strokeWidth":1.2},
"encoding":{"x":{"field":"a","type":"nominal","title":null},"y":{"field":"ya","type":"quantitative","title":"Corrected mRNAsi"},"y2":{"field":"y"}}},
{"data":{"name":"br"},"transform":[{"filter":"datum.p=='D'"}],"mark":{"type":"rule","color":"#333","strokeWidth":1.2},
"encoding":{"x":{"field":"b","type":"nominal","title":null},"y":{"field":"yb","type":"quantitative","title":"Corrected mRNAsi"},"y2":{"field":"y"}}},
{"data":{"name":"br"},"transform":[{"filter":"datum.p=='D'"}],"mark":{"type":"text","baseline":"bottom","dy":-3,"fontSize":9.5,"color":"#333"},
"encoding":{"x":{"field":"m","type":"nominal","title":null,"bandPosition":1},"y":{"field":"y","type":"quantitative","title":"Corrected mRNAsi"},"text":{"field":"t"}}}
]},
{"title":{"text":"E","offset":-16.8,"dx":-6.5},"width":186,"height":133,
"layer":[
{"data":{"name":"c"},"transform":[{"filter":"datum.g!='Normal'"},{"calculate":"floor(datum.v/0.045)","as":"bin"},{"joinaggregate":[{"op":"count","as":"n"}],"groupby":["g","bin"]},{"window":[{"op":"row_number","as":"r"}],"groupby":["g","bin"],"sort":[{"field":"v"}]},{"calculate":"max(-6.5,min(6.5,(datum.r%2==0?datum.r/2:-(datum.r-1)/2)-(datum.n%2==0?0.5:0)))","as":"slot"}],
"mark":{"type":"circle","size":8,"opacity":1},
"encoding":{"x":{"field":"g","type":"nominal","title":null,"scale":{"domain":["WHO II","WHO III","WHO IV"],"paddingInner":0,"paddingOuter":0.16},"axis":{"labelAngle":-45}},
"xOffset":{"field":"slot","type":"ordinal","scale":{"domain":[-8,-7.5,-7,-6.5,-6,-5.5,-5,-4.5,-4,-3.5,-3,-2.5,-2,-1.5,-1,-0.5,0,0.5,1,1.5,2,2.5,3,3.5,4,4.5,5,5.5,6,6.5,7,7.5,8]}},
"y":{"field":"v","type":"quantitative","title":"Corrected mRNAsi","scale":{"domain":[0,2],"nice":false},"axis":{"values":[0,0.5,1,1.5,2],"format":".1f","titlePadding":2.5}},
"color":{"field":"g","type":"nominal","scale":{"domain":["WHO II","WHO III","WHO IV"],"range":["#0000ff","#ff0000","#19c819"]},"legend":null}}},
{"data":{"name":"c"},"transform":[{"filter":"datum.g!='Normal'"}],
"mark":{"type":"errorbar","extent":"stdev","thickness":1.5,"ticks":{"size":20}},
"encoding":{"x":{"field":"g","type":"nominal","title":null},"y":{"field":"v","type":"quantitative","title":"Corrected mRNAsi"},"color":{"field":"g","type":"nominal","legend":null}}},
{"data":{"name":"c"},"transform":[{"filter":"datum.g!='Normal'"}],
"mark":{"type":"tick","size":38,"thickness":1.5,"orient":"horizontal"},
"encoding":{"x":{"field":"g","type":"nominal","title":null},"y":{"aggregate":"mean","field":"v","type":"quantitative","title":"Corrected mRNAsi"},"color":{"field":"g","type":"nominal","legend":null}}},
{"data":{"name":"br"},"transform":[{"filter":"datum.p=='E'"}],"mark":{"type":"rule","color":"#333","strokeWidth":1.2},
"encoding":{"x":{"field":"a","type":"nominal","title":null},"x2":{"field":"b"},"y":{"field":"y","type":"quantitative","title":"Corrected mRNAsi"}}},
{"data":{"name":"br"},"transform":[{"filter":"datum.p=='E'"}],"mark":{"type":"rule","color":"#333","strokeWidth":1.2},
"encoding":{"x":{"field":"a","type":"nominal","title":null},"y":{"field":"ya","type":"quantitative","title":"Corrected mRNAsi"},"y2":{"field":"y"}}},
{"data":{"name":"br"},"transform":[{"filter":"datum.p=='E'"}],"mark":{"type":"rule","color":"#333","strokeWidth":1.2},
"encoding":{"x":{"field":"b","type":"nominal","title":null},"y":{"field":"yb","type":"quantitative","title":"Corrected mRNAsi"},"y2":{"field":"y"}}},
{"data":{"name":"br"},"transform":[{"filter":"datum.p=='E' && datum.k=='edge'"}],"mark":{"type":"text","baseline":"bottom","dy":-3,"fontSize":10,"fontStyle":"italic","color":"#333"},
"encoding":{"x":{"field":"m","type":"nominal","title":null,"bandPosition":1},"y":{"field":"y","type":"quantitative","title":"Corrected mRNAsi"},"text":{"field":"t"}}},
{"data":{"name":"br"},"transform":[{"filter":"datum.p=='E' && datum.k=='mid'"}],"mark":{"type":"text","baseline":"bottom","dy":-3,"fontSize":10,"fontStyle":"italic","color":"#333"},
"encoding":{"x":{"field":"m","type":"nominal","title":null,"bandPosition":0.5},"y":{"field":"y","type":"quantitative","title":"Corrected mRNAsi"},"text":{"field":"t"}}}
]},
{"title":{"text":"F","offset":29.7,"dx":-9},"width":183,"height":125,
"layer":[
{"data":{"name":"km"},"transform":[{"filter":"datum.p=='F'"}],"mark":{"type":"line","interpolate":"step-after","strokeWidth":1.3},
"encoding":{"x":{"field":"t","type":"quantitative","title":"OS (Days)","scale":{"domain":[0,8000],"nice":false},"axis":{"values":[0,2000,4000,6000,8000],"format":"d","titleFontWeight":"bold","titleFontSize":11}},
"y":{"field":"v","type":"quantitative","title":"Percent survival","scale":{"domain":[0,113],"nice":false},"axis":{"values":[0,50,100],"titleFontSize":11,"titlePadding":4.5}},
"color":{"field":"s","type":"nominal","scale":{"domain":["Low","High"],"range":["#0000ff","#ff0000"]},
"legend":{"orient":"none","legendX":85,"legendY":4,"title":null,"symbolType":"stroke","symbolSize":200,"symbolStrokeWidth":1.5,"labelFontSize":10,"labelColor":"#222","rowPadding":3,"labelExpr":"datum.label=='Low'?'Low corrected mRNAsi (n=292)':'High corrected mRNAsi (n=291)'"}}}},
{"data":{"name":"cz"},"transform":[{"filter":"datum.p=='F'"}],"mark":{"type":"tick","orient":"vertical","size":5,"thickness":1},
"encoding":{"x":{"field":"t","type":"quantitative","title":"OS (Days)"},"y":{"field":"v","type":"quantitative","title":"Percent survival"},"color":{"field":"s","type":"nominal"}}},
{"data":{"values":[{}]},"mark":{"type":"text","fontStyle":"italic","fontSize":10,"color":"#222"},
"encoding":{"x":{"datum":7080},"y":{"datum":74},"text":{"value":"p < 0.0001"}}}
]}
]}
]
}
